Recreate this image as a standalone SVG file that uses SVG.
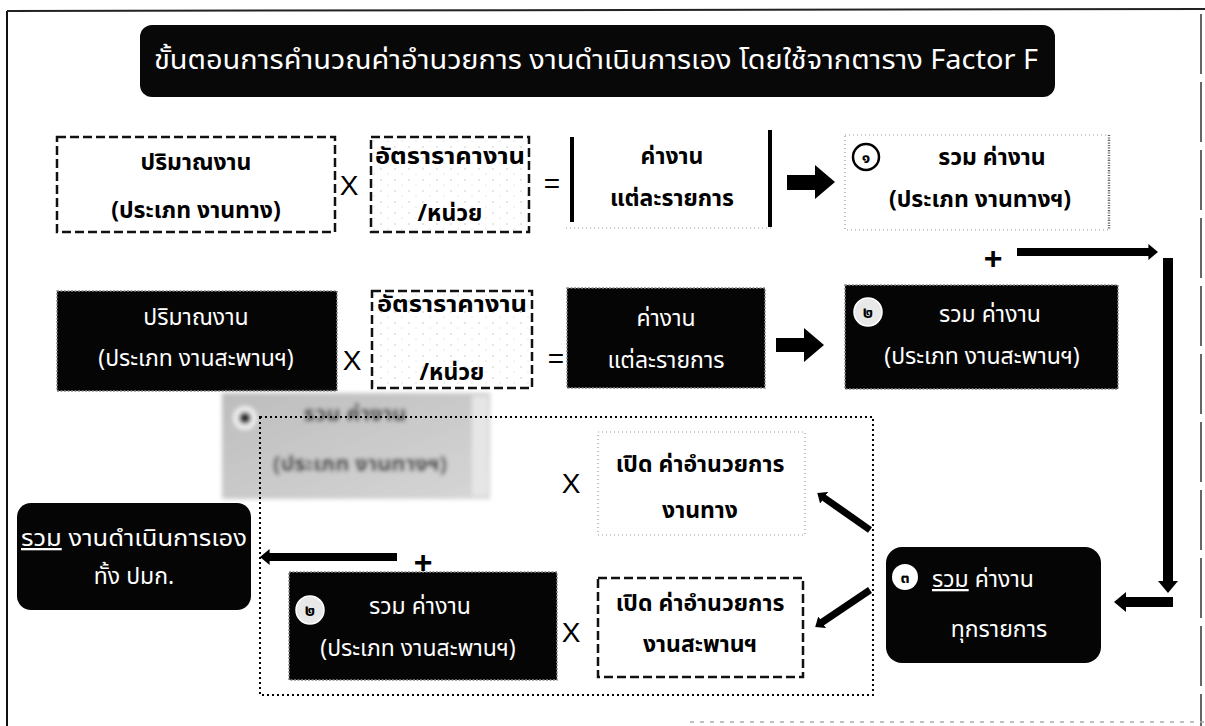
<svg xmlns="http://www.w3.org/2000/svg" width="1205" height="726" viewBox="0 0 1205 726">
<style>
text{font-family:'Noto Sans Thai','Loma','Garuda','Tahoma','DejaVu Sans',sans-serif;text-anchor:middle}
.b{font-weight:bold;font-size:23px;fill:#000}
.w{font-size:23px;fill:#fff}
.op{font-family:'Liberation Sans',Arial,sans-serif;font-size:28px;fill:#000}
.plus{font-family:'Liberation Sans',Arial,sans-serif;font-size:32px;font-weight:bold;fill:#000}
.dash{fill:url(#dots);stroke:#111;stroke-width:2.5;stroke-dasharray:9 4}
.dashw{fill:#fff;stroke:#111;stroke-width:2.5;stroke-dasharray:9 4}
.blk{fill:#050505;stroke:#8a8a8a;stroke-width:1.5;stroke-dasharray:2 1.5}
.faint{fill:none;stroke:#9a9a9a;stroke-width:1.2;stroke-dasharray:1 3}
.ln{fill:none;stroke:#000}
.num{font-weight:bold;font-size:16px;fill:#000}
</style>
<defs>
<marker id="ah" viewBox="0 0 6 10" refX="1" refY="5" markerWidth="1.2" markerHeight="2" orient="auto" markerUnits="strokeWidth"><path d="M0,0 L6,5 L0,10 z" fill="#000"/></marker>
<pattern id="dots" width="14" height="11" patternUnits="userSpaceOnUse"><rect width="14" height="11" fill="#fff"/><circle cx="3" cy="4" r="0.7" fill="#bbb"/><circle cx="10" cy="9" r="0.6" fill="#ccc"/></pattern>
<filter id="blur" x="-5%" y="-5%" width="110%" height="110%"><feGaussianBlur stdDeviation="2.2"/></filter>
<linearGradient id="gr" x1="0" y1="0" x2="1" y2="1"><stop offset="0" stop-color="#bdbdbd"/><stop offset="1" stop-color="#d6d6d6"/></linearGradient>
</defs>

<g id="frame">
<line x1="7" y1="11" x2="7" y2="726" stroke="#111" stroke-width="2"/>
<line x1="7" y1="11" x2="1205" y2="9" stroke="#222" stroke-width="2"/>
<line x1="1201" y1="14" x2="1201" y2="726" stroke="#666" stroke-width="2" stroke-dasharray="60 8"/>
<line x1="690" y1="722" x2="1205" y2="722" stroke="#aaa" stroke-width="1.5" stroke-dasharray="4 6"/>
</g>

<g id="title">
<rect x="140" y="25" width="915" height="72" rx="12" fill="#080808"/>
<text x="596" y="69" style="font-size:27px;fill:#fff" textLength="884" lengthAdjust="spacingAndGlyphs">ขั้นตอนการคำนวณค่าอำนวยการ งานดำเนินการเอง โดยใช้จากตาราง Factor F</text>
</g>

<g id="row1-qty">
<rect class="dashw" x="57" y="137" width="278" height="95"/>
<text class="b" x="196" y="170">ปริมาณงาน</text>
<text class="b" x="196" y="218">(ประเภท งานทาง)</text>
</g>
<text class="op" x="349" y="195">X</text>
<g id="row1-rate">
<rect class="dash" x="371" y="137" width="158" height="95"/>
<text class="b" x="450" y="164" textLength="150" lengthAdjust="spacingAndGlyphs">อัตราราคางาน</text>
<text class="b" x="450" y="221">/หน่วย</text>
</g>
<text class="op" x="552" y="193">=</text>
<g id="row1-cost">
<line x1="572" y1="137" x2="572" y2="222" stroke="#000" stroke-width="4"/>
<line x1="770" y1="130" x2="770" y2="227" stroke="#000" stroke-width="4"/>
<line x1="566" y1="228" x2="772" y2="228" class="faint"/>
<text class="b" x="672" y="164">ค่างาน</text>
<text class="b" x="672" y="206">แต่ละรายการ</text>
</g>
<g id="row1-sum">
<rect x="845" y="135" width="264" height="95" class="faint"/>
<line x1="1109" y1="135" x2="1109" y2="230" stroke="#666" stroke-width="2.5" stroke-dasharray="1 1.5"/>
<circle cx="866" cy="157" r="13" fill="#fff" stroke="#000" stroke-width="2.5"/>
<text class="num" x="866" y="163">๑</text>
<text class="b" x="992" y="165">รวม ค่างาน</text>
<text class="b" x="980" y="207">(ประเภท งานทางฯ)</text>
</g>

<g id="row2-qty">
<rect class="blk" x="57" y="291" width="280" height="100"/>
<text class="w" x="196" y="325">ปริมาณงาน</text>
<text class="w" x="196" y="366">(ประเภท งานสะพานฯ)</text>
</g>
<text class="op" x="352" y="370">X</text>
<g id="row2-rate">
<rect class="dash" x="372" y="291" width="160" height="97"/>
<text class="b" x="452" y="312" textLength="150" lengthAdjust="spacingAndGlyphs">อัตราราคางาน</text>
<text class="b" x="452" y="380">/หน่วย</text>
</g>
<text class="op" x="556" y="368">=</text>
<g id="row2-cost">
<rect class="blk" x="567" y="288" width="198" height="100"/>
<text class="w" x="666" y="326">ค่างาน</text>
<text class="w" x="666" y="368">แต่ละรายการ</text>
</g>
<g id="row2-sum">
<rect class="blk" x="845" y="285" width="273" height="104"/>
<circle cx="868" cy="312" r="14" fill="#e8e8e8" stroke="#fff" stroke-width="1.5"/>
<text class="num" x="868" y="318">๒</text>
<text class="w" x="990" y="322">รวม ค่างาน</text>
<text class="w" x="982" y="364">(ประเภท งานสะพานฯ)</text>
</g>

<g id="blurred-copy" filter="url(#blur)">
<rect x="222" y="393" width="268" height="106" fill="url(#gr)"/>
<rect x="472" y="396" width="16" height="100" fill="#e6e6e6"/>
<circle cx="245" cy="418" r="12" fill="#eee"/>
<circle cx="245" cy="418" r="6" fill="#333"/>
<text x="355" y="421" style="font-size:22px;font-weight:bold;fill:#222">รวม ค่างาน</text>
<text x="360" y="471" style="font-size:22px;font-weight:bold;fill:#222">(ประเภท งานทางฯ)</text>
</g>

<g id="group-frame">
<rect x="260" y="417" width="613" height="278" fill="none" stroke="#000" stroke-width="2" stroke-dasharray="2 3"/>
</g>

<g id="total">
<rect x="17" y="503" width="234" height="107" rx="14" fill="#050505"/>
<text class="w" x="134" y="546" textLength="226" lengthAdjust="spacingAndGlyphs"><tspan text-decoration="underline">รวม</tspan> งานดำเนินการเอง</text>
<text class="w" x="134" y="584">ทั้ง ปมก.</text>
</g>

<g id="sum2-copy">
<rect class="blk" x="289" y="572" width="268" height="108"/>
<circle cx="310" cy="610" r="14" fill="#e8e8e8" stroke="#fff" stroke-width="1.5"/>
<text class="num" x="310" y="616">๒</text>
<text class="w" x="420" y="614">รวม ค่างาน</text>
<text class="w" x="418" y="656">(ประเภท งานสะพานฯ)</text>
</g>

<text class="op" x="571" y="493">X</text>
<text class="op" x="571" y="642">X</text>

<g id="factor-road">
<rect x="598" y="432" width="207" height="103" class="faint"/>
<text class="b" x="700" y="472">เปิด ค่าอำนวยการ</text>
<text class="b" x="700" y="518">งานทาง</text>
</g>
<g id="factor-bridge">
<rect class="dashw" x="598" y="578" width="205" height="99"/>
<text class="b" x="700" y="611">เปิด ค่าอำนวยการ</text>
<text class="b" x="700" y="652">งานสะพานฯ</text>
</g>

<g id="sum-all">
<rect x="886" y="547" width="215" height="116" rx="16" fill="#050505"/>
<circle cx="905" cy="577" r="13" fill="#fff"/>
<text class="num" x="905" y="583">๓</text>
<text class="w" x="932" y="587" style="text-anchor:start"><tspan text-decoration="underline">รวม</tspan> ค่างาน</text>
<text class="w" x="999" y="637">ทุกรายการ</text>
</g>

<g id="connectors">
<polygon points="787,175 815,175 815,165 835,182 815,199 815,190 787,190" fill="#000"/>
<polygon points="776,338 804,338 804,328 824,345 804,362 804,352 776,352" fill="#000"/>
<text class="plus" x="993" y="269">+</text>
<line class="ln" x1="1017" y1="252" x2="1150" y2="252" stroke-width="8" marker-end="url(#ah)"/>
<line class="ln" x1="1168" y1="258" x2="1168" y2="583" stroke-width="10" marker-end="url(#ah)"/>
<line class="ln" x1="1173" y1="602" x2="1124" y2="602" stroke-width="10" marker-end="url(#ah)"/>
<line class="ln" x1="870" y1="530" x2="823" y2="497" stroke-width="7" marker-end="url(#ah)"/>
<line class="ln" x1="870" y1="590" x2="821" y2="623" stroke-width="7" marker-end="url(#ah)"/>
<line class="ln" x1="397" y1="557" x2="268" y2="557" stroke-width="8" marker-end="url(#ah)"/>
<text class="plus" x="423" y="573">+</text>
</g>
</svg>
